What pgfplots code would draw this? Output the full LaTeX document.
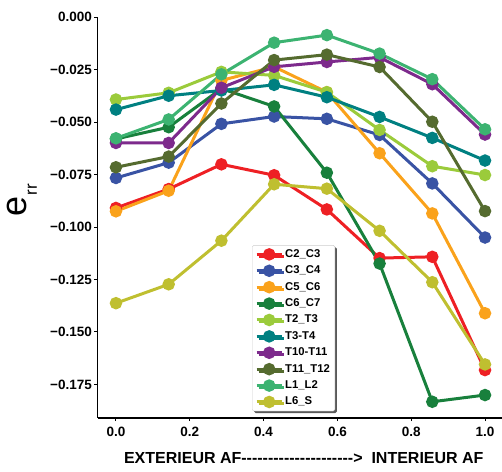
\documentclass[border=0pt]{standalone}
\usepackage{pgfplots}
\pgfplotsset{compat=1.18}
\usepackage{fontspec}
\setmainfont{Liberation Sans}
\usetikzlibrary{shadows}
\definecolor{cA}{HTML}{EE2024}
\definecolor{cB}{HTML}{3953A4}
\definecolor{cC}{HTML}{FAA21B}
\definecolor{cD}{HTML}{18803C}
\definecolor{cE}{HTML}{9BCB3B}
\definecolor{cF}{HTML}{008081}
\definecolor{cG}{HTML}{7D2A8C}
\definecolor{cH}{HTML}{556B2F}
\definecolor{cI}{HTML}{3CB371}
\definecolor{cJ}{HTML}{BFBF30}
\begin{document}
\begin{tikzpicture}
\begin{axis}[
  at={(0pt,0pt)}, anchor=south west,
  scale only axis, width=404.5pt, height=400.4pt,
  xmin=-0.05, xmax=1.046, ymin=-0.1909, ymax=0,
  axis x line=bottom, axis y line=left,
  axis line style={-, line width=1.6pt, black},
  tick align=outside, major tick length=3.5pt,
  tick style={black, line width=1pt},
  xtick={0,0.2,0.4,0.6,0.8,1.0},
  xticklabels={0.0,0.2,0.4,0.6,0.8,1.0},
  ytick={0,-0.025,-0.05,-0.075,-0.1,-0.125,-0.15,-0.175},
  yticklabels={0.000,−0.025,−0.050,−0.075,−0.100,−0.125,−0.150,−0.175},
  ticklabel style={font=\fontsize{13.5}{15}\selectfont\bfseries},
  xticklabel style={anchor=base, yshift=-15.6pt},
  yticklabel style={anchor=east, inner sep=0pt, xshift=-2pt},
  xlabel={EXTERIEUR AF-{}-{}-{}-{}-{}-{}-{}-{}-{}-{}-{}-{}-{}-{}-{}-{}-{}-{}-{}-{}-{}>\ \ INTERIEUR AF},
  xlabel style={at={(axis description cs:0.51,0)}, anchor=base, yshift=-45.6pt, font=\fontsize{16}{18}\selectfont\bfseries},
  ylabel={\fontsize{36}{36}\selectfont e\kern1pt\raisebox{-10pt}{\fontsize{17}{17}\selectfont rr}},
  every axis y label/.style={at={(axis description cs:0,0.544)}, xshift=-70.5pt, rotate=90, anchor=base},
  every axis plot/.append style={line width=3pt, mark=*, mark size=4.7pt},
  legend cell align=left,
  legend image code/.code={\draw[mark repeat=2,mark phase=2] plot coordinates {(0pt,0pt) (12.5pt,0pt) (25pt,0pt)};},
  legend style={at={(axis description cs:0.382,0.431)}, anchor=north west,
    font=\fontsize{11.3}{12}\selectfont\bfseries,
    draw=black!20, fill=white, rounded corners=1.5pt,
    drop shadow={shadow xshift=2pt, shadow yshift=-2pt, fill=black!65, opacity=1},
    row sep=2.3pt, inner xsep=3pt, inner ysep=2pt,
    nodes={inner sep=2pt, text height=7.9pt, text depth=2.2pt}},
]
\addplot[color=cA] coordinates {(0,-0.0909) (0.142857,-0.0819) (0.285714,-0.0701) (0.428571,-0.0753) (0.571429,-0.0916) (0.714286,-0.1148) (0.857143,-0.1142) (1,-0.1682)};
\addlegendentry{C2\_C3}
\addplot[color=cB] coordinates {(0,-0.0766) (0.142857,-0.0693) (0.285714,-0.0508) (0.428571,-0.0473) (0.571429,-0.0484) (0.714286,-0.0561) (0.857143,-0.0792) (1,-0.1050)};
\addlegendentry{C3\_C4}
\addplot[color=cC] coordinates {(0,-0.0925) (0.142857,-0.0827) (0.285714,-0.0301) (0.428571,-0.0236) (0.571429,-0.0357) (0.714286,-0.0648) (0.857143,-0.0935) (1,-0.1411)};
\addlegendentry{C5\_C6}
\addplot[color=cD] coordinates {(0,-0.0580) (0.142857,-0.0524) (0.285714,-0.0340) (0.428571,-0.0425) (0.571429,-0.0741) (0.714286,-0.1174) (0.857143,-0.1833) (1,-0.1801)};
\addlegendentry{C6\_C7}
\addplot[color=cE] coordinates {(0,-0.0392) (0.142857,-0.0360) (0.285714,-0.0260) (0.428571,-0.0277) (0.571429,-0.0357) (0.714286,-0.0537) (0.857143,-0.0710) (1,-0.0752)};
\addlegendentry{T2\_T3}
\addplot[color=cF] coordinates {(0,-0.0440) (0.142857,-0.0374) (0.285714,-0.0349) (0.428571,-0.0322) (0.571429,-0.0381) (0.714286,-0.0475) (0.857143,-0.0575) (1,-0.0683)};
\addlegendentry{T3-T4}
\addplot[color=cG] coordinates {(0,-0.0599) (0.142857,-0.0599) (0.285714,-0.0336) (0.428571,-0.0236) (0.571429,-0.0213) (0.714286,-0.0191) (0.857143,-0.0319) (1,-0.0559)};
\addlegendentry{T10-T11}
\addplot[color=cH] coordinates {(0,-0.0715) (0.142857,-0.0664) (0.285714,-0.0411) (0.428571,-0.0204) (0.571429,-0.0178) (0.714286,-0.0237) (0.857143,-0.0498) (1,-0.0924)};
\addlegendentry{T11\_T12}
\addplot[color=cI] coordinates {(0,-0.0577) (0.142857,-0.0487) (0.285714,-0.0272) (0.428571,-0.0121) (0.571429,-0.0085) (0.714286,-0.0173) (0.857143,-0.0295) (1,-0.0534)};
\addlegendentry{L1\_L2}
\addplot[color=cJ] coordinates {(0,-0.1363) (0.142857,-0.1273) (0.285714,-0.1065) (0.428571,-0.0796) (0.571429,-0.0817) (0.714286,-0.1018) (0.857143,-0.1263) (1,-0.1655)};
\addlegendentry{L6\_S}
\end{axis}
\pgfresetboundingbox
\path (-97.5pt,-53.3pt) rectangle (404.5pt,417.7pt);
\end{tikzpicture}
\end{document}
